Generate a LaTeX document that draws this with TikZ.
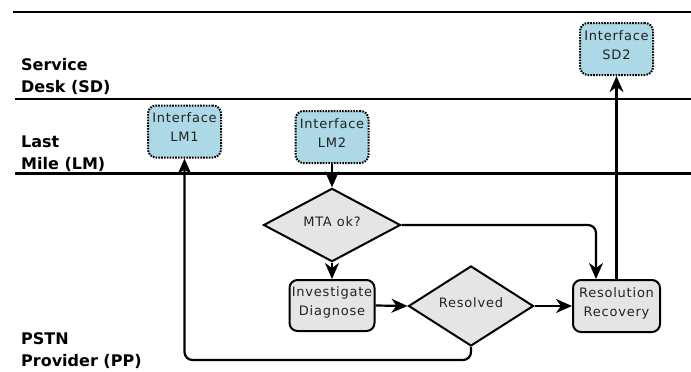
\documentclass[tikz,border=0pt]{standalone}
\usepackage{fontspec}
\setmainfont{DejaVu Sans}[LetterSpace=6]
\newfontfamily\lanefont{DejaVu Sans}
\usetikzlibrary{shapes.geometric,arrows.meta}
\definecolor{ifaceblue}{RGB}{173,216,230}
\definecolor{stepfill}{RGB}{229,229,229}
\definecolor{steptext}{RGB}{35,35,35}
\begin{document}
\begin{tikzpicture}[x=1pt,y=-1pt,
  laneline/.style={line width=2.2pt},
  lanelabel/.style={anchor=west,align=left,inner sep=0pt,
    font=\lanefont\bfseries\fontsize{16}{22}\selectfont},
  boxtext/.style={align=center,text=steptext,inner sep=0pt,text depth=8pt,
    font=\fontsize{13}{19}\selectfont},
  iface/.style={boxtext,draw,line width=2pt,dash pattern=on 1.6pt off 1.2pt,
    fill=ifaceblue,rounded corners=8pt,minimum width=73pt,minimum height=52pt},
  stepbox/.style={boxtext,draw,line width=2pt,fill=stepfill,
    rounded corners=8pt,minimum height=52pt},
  decision/.style={draw,diamond,line width=2pt,fill=stepfill,text=steptext,
    inner sep=0pt,text depth=6pt,font=\fontsize{13}{15}\selectfont},
  flow/.style={line width=2.2pt,-{Stealth[length=16pt,width=14pt,inset=5pt]}},
]
\useasboundingbox (0,0) rectangle (691,372);

% swimlane separators
\draw[laneline] (13,12) -- (691,12);
\draw[laneline] (15,99) -- (691,99);
\draw[laneline] (15,173.5) -- (691,173.5);

% lane titles
\node[lanelabel] (sdlabel) at (21,76) {Service\\Desk (SD)};
\node[lanelabel] (lmlabel) at (21,153.4) {Last\\Mile (LM)};
\node[lanelabel] (pplabel) at (21,350.6) {PSTN\\Provider (PP)};

% interfaces
\node[iface] (lm1) at (184.5,131.5) {Interface\\LM1};
\node[iface] (lm2) at (332,137) {Interface\\LM2};
\node[iface] (sd2) at (616.5,49) {Interface\\SD2};

% process steps
\node[decision,minimum width=137pt,minimum height=65pt] (mta) at (332,225) {MTA ok?};
\node[stepbox,minimum width=85pt,minimum height=51pt] (inv) at (332,305.5) {Investigate\\Diagnose};
\node[decision,minimum width=125pt,minimum height=74pt] (res) at (471,306) {Resolved};
\node[stepbox,minimum width=87pt] (rr) at (616.5,306) {Resolution\\Recovery};

% flow
\coordinate (loopbase) at (0,360);
\draw[flow] (lm2.south) -- (mta.north);
\draw[flow] (mta.south) -- (inv.north);
\draw[flow] (inv.east) -- (res.west);
\draw[flow] (res.east) -- (rr.west);
\draw[flow,rounded corners=8pt] (mta.east) -| ([xshift=-20.5pt]rr.north);
\draw[flow] (rr.north) -- (sd2.south);
\draw[flow,rounded corners=8pt] (res.south) |- (lm1.south |- loopbase) -- (lm1.south);
\end{tikzpicture}
\end{document}
